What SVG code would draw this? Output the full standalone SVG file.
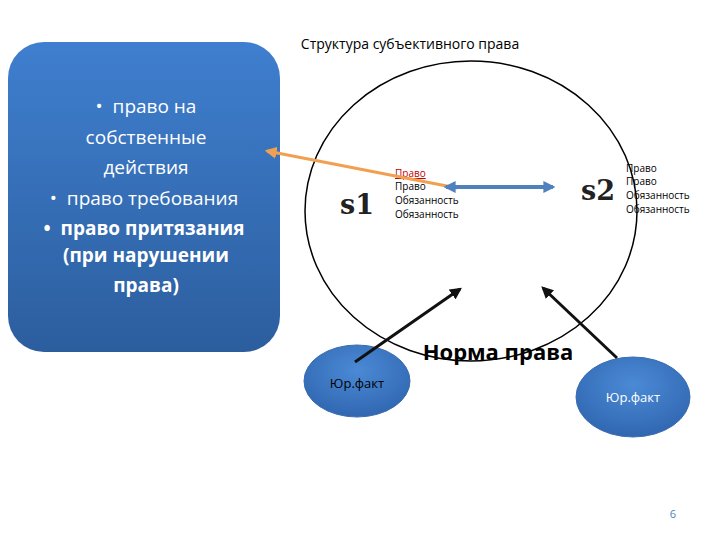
<svg xmlns="http://www.w3.org/2000/svg" width="720" height="540" viewBox="0 0 720 540">
<style>
text{font-family:"Open Sans","Liberation Sans",sans-serif}
.w{fill:#fff;font-size:19px}
.s{font-size:10px;fill:#000}
.big{font-family:"DejaVu Serif","Liberation Serif",serif;font-size:27px;font-weight:bold;fill:#222}
</style>
<defs>
<linearGradient id="g" x1="0" y1="0" x2="0" y2="1"><stop offset="0" stop-color="#3f7fcf"/><stop offset="1" stop-color="#2c5e9e"/></linearGradient>
<radialGradient id="r" cx="0.5" cy="0.35" r="0.7"><stop offset="0" stop-color="#4b8ad6"/><stop offset="1" stop-color="#2f64ae"/></radialGradient>
<marker id="ab" viewBox="0 0 10 10" refX="8" refY="5" markerWidth="4" markerHeight="4" orient="auto-start-reverse"><path d="M0,0L10,5L0,10z" fill="#111"/></marker>
<marker id="ao" viewBox="0 0 10 10" refX="8" refY="5" markerWidth="4" markerHeight="4" orient="auto"><path d="M0,0L10,5L0,10z" fill="#f0a050"/></marker>
<marker id="au" viewBox="0 0 10 10" refX="8" refY="5" markerWidth="3" markerHeight="3.5" orient="auto-start-reverse"><path d="M0,0L10,5L0,10z" fill="#4f81bd"/></marker>
</defs>
<text x="410" y="49" text-anchor="middle" font-size="14" fill="#000">Структура субъективного права</text>
<g id="box">
<rect x="8" y="42" width="272" height="310" rx="36" fill="url(#g)"/>
<text class="w" text-anchor="middle"><tspan x="146" y="113">•&#160;&#160;право на</tspan><tspan x="146" y="144">собственные</tspan><tspan x="146" y="174">действия</tspan><tspan x="144" y="205">•&#160;&#160;право требования</tspan><tspan x="144" y="235" font-weight="bold">•&#160;&#160;право притязания</tspan><tspan x="146" y="262" font-weight="bold">(при нарушении</tspan><tspan x="146" y="292" font-weight="bold">права)</tspan></text>
</g>
<g id="norma">
<ellipse cx="471" cy="211" rx="166" ry="150" fill="none" stroke="#000" stroke-width="1.5"/>
<text x="498" y="360" text-anchor="middle" font-size="22" font-weight="bold" fill="#000">Норма права</text>
</g>
<g id="s1">
<text class="big" x="340" y="214">s1</text>
<text class="s" x="395" y="177" fill="#c00000" text-decoration="underline" style="fill:#c00000">Право</text>
<text class="s" x="395" y="190">Право</text>
<text class="s" x="395" y="204">Обязанность</text>
<text class="s" x="395" y="218">Обязанность</text>
</g>
<g id="s2">
<text class="big" x="581" y="200">s2</text>
<text class="s" x="626" y="172">Право</text>
<text class="s" x="626" y="185">Право</text>
<text class="s" x="626" y="199">Обязанность</text>
<text class="s" x="626" y="213">Обязанность</text>
</g>
<g id="yf1">
<ellipse cx="357" cy="381" rx="53" ry="36" fill="url(#r)" stroke="#3a6db0"/>
<text x="357" y="388" text-anchor="middle" font-size="13" fill="#000">Юр.факт</text>
</g>
<g id="yf2">
<ellipse cx="633" cy="397" rx="57" ry="40" fill="url(#r)" stroke="#3a6db0"/>
<text x="633" y="402" text-anchor="middle" font-size="13" fill="#fff">Юр.факт</text>
</g>
<g id="connectors">
<line x1="457" y1="188" x2="267" y2="151" stroke="#f0a050" stroke-width="3" marker-end="url(#ao)"/>
<line x1="446" y1="187" x2="553" y2="187" stroke="#4f81bd" stroke-width="4" marker-start="url(#au)" marker-end="url(#au)"/>
<line x1="355" y1="362" x2="460" y2="289" stroke="#111" stroke-width="3" marker-end="url(#ab)"/>
<line x1="617" y1="358" x2="543" y2="288" stroke="#111" stroke-width="3" marker-end="url(#ab)"/>
</g>
<text x="673" y="518" text-anchor="middle" font-size="11" fill="#4f81bd">6</text>
</svg>
